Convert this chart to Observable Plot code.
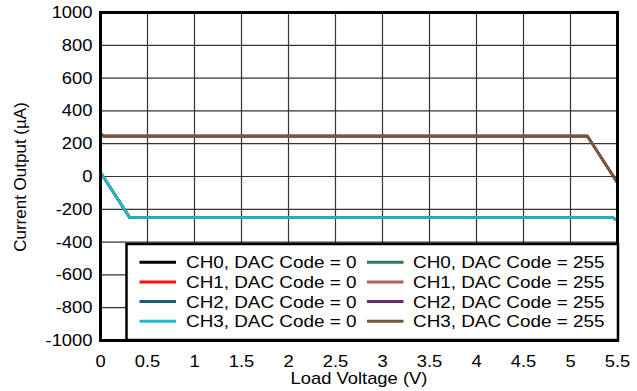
<!DOCTYPE html>
<html>
<head>
<meta charset="utf-8">
<script src="https://cdn.jsdelivr.net/npm/d3@7"></script>
<script src="https://cdn.jsdelivr.net/npm/@observablehq/plot@0.6"></script>
<style>
  html, body { margin: 0; padding: 0; background: white; }
  #chart { width: 637px; height: 391px; }
</style>
</head>
<body>
<div id="chart"></div>
<script>
// ---- Data ----
const xTicks = [0, 0.5, 1, 1.5, 2, 2.5, 3, 3.5, 4, 4.5, 5, 5.5];
const yTicks = [-1000, -800, -600, -400, -200, 0, 200, 400, 600, 800, 1000];
const channels = ["CH0", "CH1", "CH2", "CH3"];
const dacCodes = [0, 255];

// DAC Code = 0 (all channels overlap)
const dac0Voltage = [0, 0.31, 5.45, 5.5];
const dac0Current = [25, -250, -250, -270];
// DAC Code = 255 (all channels overlap)
const dac255Voltage = [0, 0.03, 5.18, 5.5];
const dac255Current = [262, 246, 246, -38];

const seriesLabels = [
  "CH0, DAC Code = 0", "CH1, DAC Code = 0", "CH2, DAC Code = 0", "CH3, DAC Code = 0",
  "CH0, DAC Code = 255", "CH1, DAC Code = 255", "CH2, DAC Code = 255", "CH3, DAC Code = 255"
];
const seriesColors = [
  "#000000", "#ff1010", "#1d5e72", "#1cbccf",
  "#2e7b5a", "#b0605a", "#6b2b6b", "#75573a"
];

// ---- Build table ----
const rows = [];
dacCodes.forEach(code => {
  const vs = code === 0 ? dac0Voltage : dac255Voltage;
  const cs = code === 0 ? dac0Current : dac255Current;
  channels.forEach(ch => {
    vs.forEach((v, i) => rows.push({ series: `${ch}, DAC Code = ${code}`, v, i: cs[i] }));
  });
});

const FONT = "'Liberation Sans', Arial, sans-serif";
const fmt = d => String(d);

const plot = Plot.plot({
  width: 637,
  height: 391,
  marginLeft: 100,
  marginRight: 20,
  marginTop: 12,
  marginBottom: 51,
  style: { fontFamily: FONT, fontSize: "17px", background: "white", color: "black" },
  x: { domain: [0, 5.5], ticks: xTicks, tickFormat: fmt, tickSize: 0, tickPadding: 14, label: null },
  y: { domain: [-1000, 1000], ticks: yTicks, tickFormat: fmt, tickSize: 0, tickPadding: 8, label: null },
  color: { domain: seriesLabels, range: seriesColors },
  marks: [
    Plot.gridX(xTicks, { stroke: "#333", strokeOpacity: 1, strokeWidth: 1.2 }),
    Plot.gridY(yTicks, { stroke: "#333", strokeOpacity: 1, strokeWidth: 1.2 }),
    Plot.line(rows, { x: "v", y: "i", z: "series", stroke: "series", strokeWidth: 2.6 }),
    Plot.frame({ stroke: "black", strokeWidth: 3 })
  ]
});

document.getElementById("chart").appendChild(plot);
const svg = d3.select(plot);

// stretch text slightly to match reference glyph width
const STRETCH = 1.08;
function stretch(sel, k) {
  sel.each(function () {
    const L = this.getComputedTextLength();
    if (L > 0) {
      this.setAttribute("textLength", L * k);
      this.setAttribute("lengthAdjust", "spacingAndGlyphs");
    }
  });
}
stretch(svg.selectAll("g[aria-label$='tick label'] text"), STRETCH);

// ---- Axis titles ----
const titles = svg.append("g").attr("font-family", FONT).attr("fill", "black");
const xt = titles.append("text")
  .attr("x", 359).attr("y", 384)
  .attr("text-anchor", "middle").attr("font-size", 17)
  .text("Load Voltage (V)");
stretch(xt, STRETCH);
titles.append("text")
  .attr("transform", "translate(25.5,177) rotate(-90)")
  .attr("text-anchor", "middle").attr("font-size", 17)
  .text("Current Output (\u00B5A)");

// ---- Legend ----
const lg = svg.append("g").attr("font-family", FONT).attr("font-size", 17)
  .attr("text-anchor", "start");
lg.append("rect")
  .attr("x", 126.5).attr("y", 244).attr("width", 491.5).attr("height", 96)
  .attr("fill", "white").attr("stroke", "black").attr("stroke-width", 2.5);
const rowY = [262.3, 282, 301.6, 321.2];
const colX = [{ lx: 139.5, tx: 186 }, { lx: 367, tx: 413 }];
seriesLabels.forEach((lab, k) => {
  const col = colX[Math.floor(k / 4)];
  const y = rowY[k % 4];
  lg.append("line")
    .attr("x1", col.lx).attr("x2", col.lx + 36.5)
    .attr("y1", y).attr("y2", y)
    .attr("stroke", seriesColors[k]).attr("stroke-width", 3);
  const t = lg.append("text")
    .attr("x", col.tx).attr("y", y).attr("dy", "0.36em")
    .attr("text-anchor", "start")
    .attr("fill", "black")
    .text(lab);
  stretch(t, 1.11);
});
// keep frame on top
svg.select("g[aria-label='frame']").raise();
</script>
</body>
</html>
